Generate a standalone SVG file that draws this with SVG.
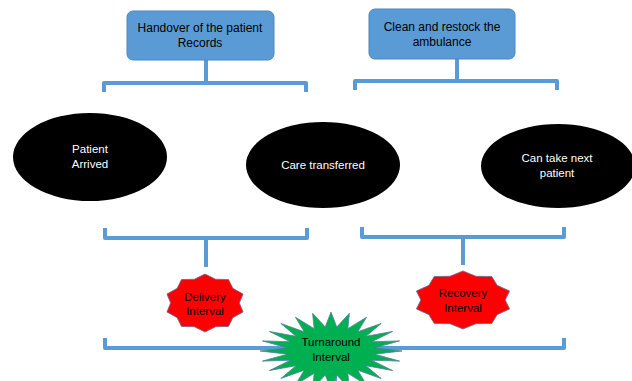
<svg xmlns="http://www.w3.org/2000/svg" width="632" height="381" viewBox="0 0 632 381">
<style>
.br{fill:none;stroke:#5B9BD5;stroke-width:4;stroke-linejoin:round}
.box{fill:#5B9BD5;stroke:#4A87C0;stroke-width:1}
.ell{fill:#000}
.t{font-family:"Liberation Sans",Arial,sans-serif;font-size:11.5px;text-anchor:middle;fill:#000}
.b{font-size:12px}
.w{fill:#fff}
.red{fill:#FF0000;stroke:#6A6A9A;stroke-width:0.8}
.grn{fill:#00B050;stroke:#4F7F9F;stroke-width:0.8}
</style>
<defs>
<polygon id="star10" vector-effect="non-scaling-stroke" points="0,-1 0.2657,-0.818 0.5878,-0.809 0.6958,-0.5055 0.9511,-0.309 0.86,0 0.9511,0.309 0.6958,0.5055 0.5878,0.809 0.2657,0.818 0,1 -0.2657,0.818 -0.5878,0.809 -0.6958,0.5055 -0.9511,0.309 -0.86,0 -0.9511,-0.309 -0.6958,-0.5055 -0.5878,-0.809 -0.2657,-0.818"/>
</defs>
<g id="connectors">
<path class="br" d="M206,60 V83 M104,92 V83 H306 V92"/>
<path class="br" d="M457,59 V81 M355,90 V81 H557 V90"/>
<path class="br" d="M105,228 V238 H307 V228 M206,238 V267"/>
<path class="br" d="M362,227 V237 H564 V227 M463,237 V265"/>
<path class="br" d="M105,338 V348 H564 V338 M335,348 V381"/>
</g>
<g id="handover">
<rect class="box" x="127" y="11" width="147" height="49" rx="6"/>
<text class="t b" x="200" y="32">Handover of the patient</text>
<text class="t b" x="200" y="47">Records</text>
</g>
<g id="clean">
<rect class="box" x="369" y="9" width="146" height="50" rx="6"/>
<text class="t b" x="442" y="31">Clean and restock the</text>
<text class="t b" x="442" y="46">ambulance</text>
</g>
<g id="patient-arrived">
<ellipse class="ell" cx="90" cy="157" rx="77" ry="44"/>
<text class="t w" x="90" y="153">Patient</text>
<text class="t w" x="90" y="168">Arrived</text>
</g>
<g id="care-transferred">
<ellipse class="ell" cx="323" cy="165" rx="77" ry="43"/>
<text class="t w" x="323" y="169">Care transferred</text>
</g>
<g id="next-patient">
<ellipse class="ell" cx="558" cy="166" rx="77" ry="42"/>
<text class="t w" x="557" y="162">Can take next</text>
<text class="t w" x="557" y="177">patient</text>
</g>
<g id="delivery">
<use href="#star10" class="red" transform="translate(205,303) scale(40,29)"/>
<text class="t" x="205" y="301">Delivery</text>
<text class="t" x="205" y="315">Interval</text>
</g>
<g id="recovery">
<use href="#star10" class="red" transform="translate(463,300) scale(49,29)"/>
<text class="t" x="463" y="297">Recovery</text>
<text class="t" x="463" y="312">Interval</text>
</g>
<g id="turnaround">
<polygon class="grn" vector-effect="non-scaling-stroke" transform="translate(331,351) scale(71,39)" points="0,-1 .081,-.615 .259,-.966 .237,-.573 .5,-.866 .377,-.492 .707,-.707 .492,-.377 .866,-.5 .573,-.237 .966,-.259 .615,-.081 1,0 .615,.081 .966,.259 .573,.237 .866,.5 .492,.377 .707,.707 .377,.492 .5,.866 .237,.573 .259,.966 .081,.615 0,1 -.081,.615 -.259,.966 -.237,.573 -.5,.866 -.377,.492 -.707,.707 -.492,.377 -.866,.5 -.573,.237 -.966,.259 -.615,.081 -1,0 -.615,-.081 -.966,-.259 -.573,-.237 -.866,-.5 -.492,-.377 -.707,-.707 -.377,-.492 -.5,-.866 -.237,-.573 -.259,-.966 -.081,-.615"/>
<text class="t" x="331" y="346">Turnaround</text>
<text class="t" x="331" y="361">Interval</text>
</g>
</svg>
